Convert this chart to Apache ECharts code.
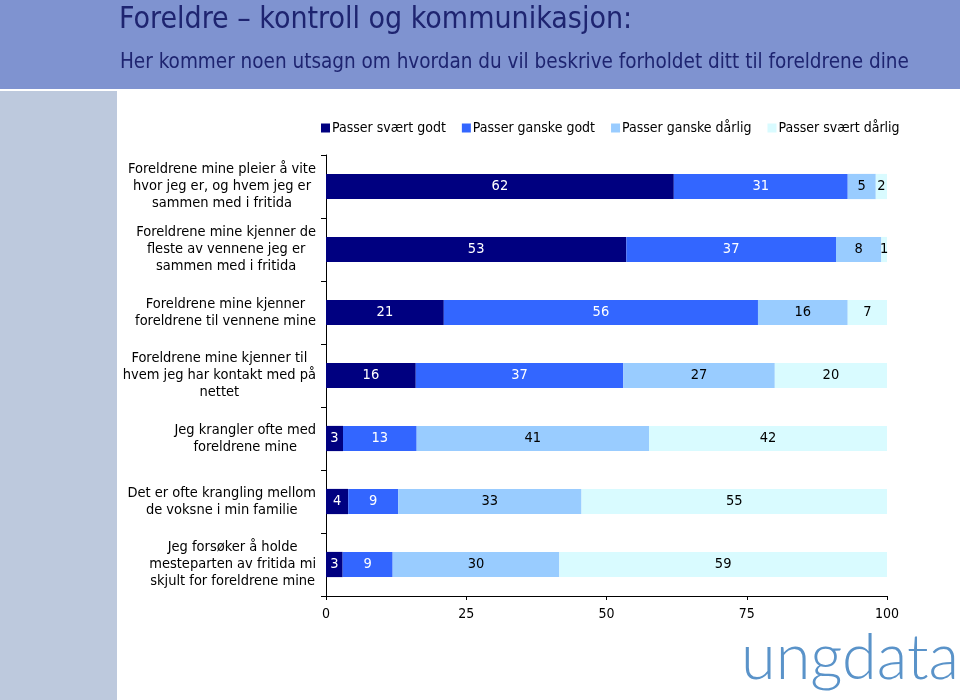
<!DOCTYPE html>
<html><head><meta charset="utf-8">
<script src="https://cdn.jsdelivr.net/npm/echarts@6/dist/echarts.min.js"></script>
<style>html,body{margin:0;padding:0;background:#fff}#c{width:960px;height:700px}</style>
</head><body><div id="c"></div>
<script>
const categories = [
  "Foreldrene mine pleier å vite\nhvor jeg er, og hvem jeg er\nsammen med i fritida",
  "Foreldrene mine kjenner de\nfleste av vennene jeg er\nsammen med i fritida",
  "Foreldrene mine kjenner\nforeldrene til vennene mine",
  "Foreldrene mine kjenner til\nhvem jeg har kontakt med på\nnettet",
  "Jeg krangler ofte med\nforeldrene mine",
  "Det er ofte krangling mellom\nde voksne i min familie",
  "Jeg forsøker å holde\nmesteparten av fritida mi\nskjult for foreldrene mine"
];
const seriesNames = ["Passer svært godt", "Passer ganske godt", "Passer ganske dårlig", "Passer svært dårlig"];
const svaertGodt   = [62, 53, 21, 16, 3, 4, 3];
const ganskeGodt   = [31, 37, 56, 37, 13, 9, 9];
const ganskeDarlig = [5, 8, 16, 27, 41, 33, 30];
const svaertDarlig = [2, 1, 7, 20, 42, 55, 59];
const xTicks = [0, 25, 50, 75, 100];

const colors = ["#000080", "#3366FF", "#99CCFF", "#D9FBFF"];
const labelColors = ["#ffffff", "#ffffff", "#000000", "#000000"];
const FONT = "'DejaVu Sans Condensed', 'DejaVu Sans', sans-serif";
const values = [svaertGodt, ganskeGodt, ganskeDarlig, svaertDarlig];
// 100% stacked: each row is scaled to its own total, labels show the original values
const totals = categories.map((_, r) => values.reduce((s, arr) => s + arr[r], 0));

const chart = echarts.init(document.getElementById('c'), null, {renderer: 'canvas'});
chart.setOption({
  animation: false,
  textStyle: {fontFamily: FONT},
  graphic: [
    {type: 'rect', shape: {x: 0, y: 0, width: 960, height: 89}, style: {fill: '#7F93D0'}, z: -10},
    {type: 'rect', shape: {x: 0, y: 91, width: 117, height: 609}, style: {fill: '#BDC9DD'}, z: -10},
    {type: 'text', left: 119, top: 5, style: {text: 'Foreldre – kontroll og kommunikasjon:', fill: '#1E2470', font: "30px " + FONT}},
    {type: 'text', left: 120, top: 52, style: {text: 'Her kommer noen utsagn om hvordan du vil beskrive forholdet ditt til foreldrene dine', fill: '#1E2470', font: "20.5px " + FONT}},
    {type: 'text', right: 1, top: 627, style: {text: 'ungdata', fill: '#5A93C9', font: "300 63px Lato, sans-serif"}}
  ],
  legend: {
    top: 116, left: 316,
    itemWidth: 9, itemHeight: 9, itemGap: 16,
    icon: 'rect',
    textStyle: {fontSize: 14, color: '#000', fontFamily: FONT, padding: [0, 0, 0, -3]},
    data: seriesNames
  },
  grid: {left: 326, right: 73, top: 155, bottom: 104},
  xAxis: {
    type: 'value', min: 0, max: 100, interval: 25,
    axisLine: {show: true, lineStyle: {color: '#000'}},
    axisTick: {show: true, length: 4, lineStyle: {color: '#000'}},
    splitLine: {show: false},
    axisLabel: {fontSize: 14, color: '#000', margin: 11, fontFamily: FONT,
      formatter: v => xTicks.includes(v) ? String(v) : ''}
  },
  yAxis: {
    type: 'category', inverse: true, data: categories,
    axisLine: {show: true, lineStyle: {color: '#000'}},
    axisTick: {show: true, length: 5, lineStyle: {color: '#000'}},
    axisLabel: {
      margin: 10, color: '#000', fontSize: 14.5, fontFamily: FONT,
      formatter: v => v.split('\n').map(s => '{c|' + s + '}').join('\n'),
      rich: {c: {align: 'center', fontSize: 14.5, lineHeight: 17, color: '#000', fontFamily: FONT}}
    }
  },
  series: values.map((arr, i) => ({
    name: seriesNames[i], type: 'bar', stack: 'all',
    data: arr.map((v, r) => ({value: v / totals[r] * 100, raw: v})),
    barWidth: '40%',
    itemStyle: {color: colors[i]},
    label: {show: true, position: 'inside', color: labelColors[i], fontSize: 14.5, fontFamily: FONT,
      formatter: p => String(p.data.raw)}
  })),
  color: colors
});
</script></body></html>
